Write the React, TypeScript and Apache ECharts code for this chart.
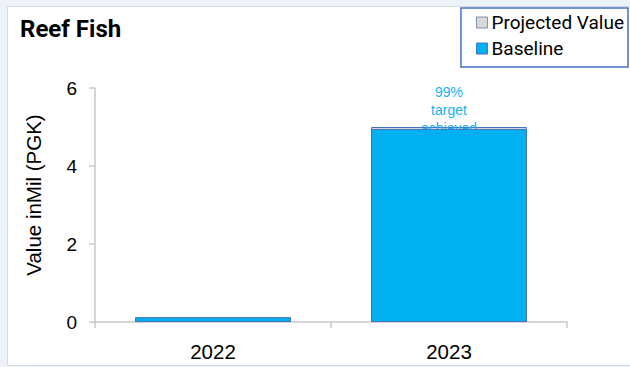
import React, { useEffect, useRef } from "react";
import * as echarts from "echarts";

const categories = ["2022", "2023"];
const projectedValues = [0.12, 5.0];
const baselineValues = [0.12, 4.95];
const yTicks = [0, 2, 4, 6];
const targetLabels = ["", "99%\ntarget\nachieved"];
const yAxisTitle = "Value inMil (PGK)";

export default function App() {
  const ref = useRef<HTMLDivElement>(null);
  useEffect(() => {
    if (!ref.current) return;
    const chart = echarts.init(ref.current, undefined, { renderer: "svg" });
    const axisColor = "#c8c8c8";
    chart.setOption({
      animation: false,
      backgroundColor: "#edf2f9",
      graphic: [
        {
          type: "rect",
          shape: { x: 7.5, y: 6.5, width: 640, height: 359 },
          style: { fill: "#ffffff", stroke: "#d6d9de", lineWidth: 1 },
          z: -10,
          silent: true,
        },
        {
          type: "text",
          left: 20,
          top: 17,
          style: {
            text: "Reef Fish",
            font: "bold 24px Roboto, 'Noto Sans', sans-serif",
            fill: "#000000",
          },
        },
        {
          type: "text",
          x: 33,
          y: 195,
          rotation: Math.PI / 2,
          style: {
            text: yAxisTitle,
            font: "20.5px 'Liberation Sans', Arial, sans-serif",
            fill: "#000000",
            align: "center",
            verticalAlign: "middle",
          },
        },
      ],
      legend: {
        orient: "vertical",
        right: 2,
        top: 8,
        itemWidth: 11,
        itemHeight: 11,
        itemGap: 7,
        padding: [5, 4, 9, 15],
        borderColor: "#4472c4",
        borderWidth: 1.5,
        borderRadius: 0,
        backgroundColor: "#ffffff",
        icon: "rect",
        textStyle: {
          fontSize: 19,
          color: "#000000",
          fontFamily: "Roboto, 'Noto Sans', sans-serif",
          padding: [0, 0, 0, -1],
        },
        data: [
          { name: "Projected Value", itemStyle: { color: "#d9d9d9", borderColor: "#7f8fa9", borderWidth: 1 } },
          { name: "Baseline", itemStyle: { color: "#00b0f0", borderColor: "#4472c4", borderWidth: 1 } },
        ],
      },
      grid: { left: 95, right: 63, top: 88, bottom: 45 },
      xAxis: {
        type: "category",
        data: categories,
        axisLine: { lineStyle: { color: axisColor, width: 1.5 } },
        axisTick: { show: true, length: 6, lineStyle: { color: axisColor, width: 1.5 } },
        axisLabel: {
          fontSize: 20.5,
          color: "#000000",
          margin: 19,
          fontFamily: "'Liberation Sans', Arial, sans-serif",
        },
      },
      yAxis: {
        type: "value",
        min: 0,
        max: 6,
        interval: 2,
        splitLine: { show: false },
        axisLine: { show: true, lineStyle: { color: axisColor, width: 1.5 } },
        axisTick: { show: true, length: 6, lineStyle: { color: axisColor, width: 1.5 } },
        axisLabel: {
          fontSize: 19,
          color: "#000000",
          margin: 18,
          fontFamily: "'Liberation Sans', Arial, sans-serif",
          formatter: (v: number) => (yTicks.includes(v) ? String(v) : ""),
        },
      },
      series: [
        {
          name: "Projected Value",
          type: "bar",
          data: projectedValues,
          barWidth: "66%",
          z: 2,
          itemStyle: { color: "#d9d9d9", borderColor: "#4472c4", borderWidth: 1 },
          label: {
            show: true,
            position: "top",
            distance: -10,
            formatter: (p: any) => targetLabels[p.dataIndex],
            color: "#1ab0f0",
            fontSize: 14,
            lineHeight: 18,
            fontFamily: "'Liberation Sans', Arial, sans-serif",
          },
        },
        {
          name: "Baseline",
          type: "bar",
          data: baselineValues,
          barWidth: "66%",
          barGap: "-100%",
          z: 3,
          itemStyle: { color: "#00b0f0", borderColor: "#4472c4", borderWidth: 1 },
        },
      ],
    });
    return () => chart.dispose();
  }, []);
  return <div ref={ref} style={{ width: 630, height: 367, position: "absolute", left: 0, top: 0 }} />;
}
